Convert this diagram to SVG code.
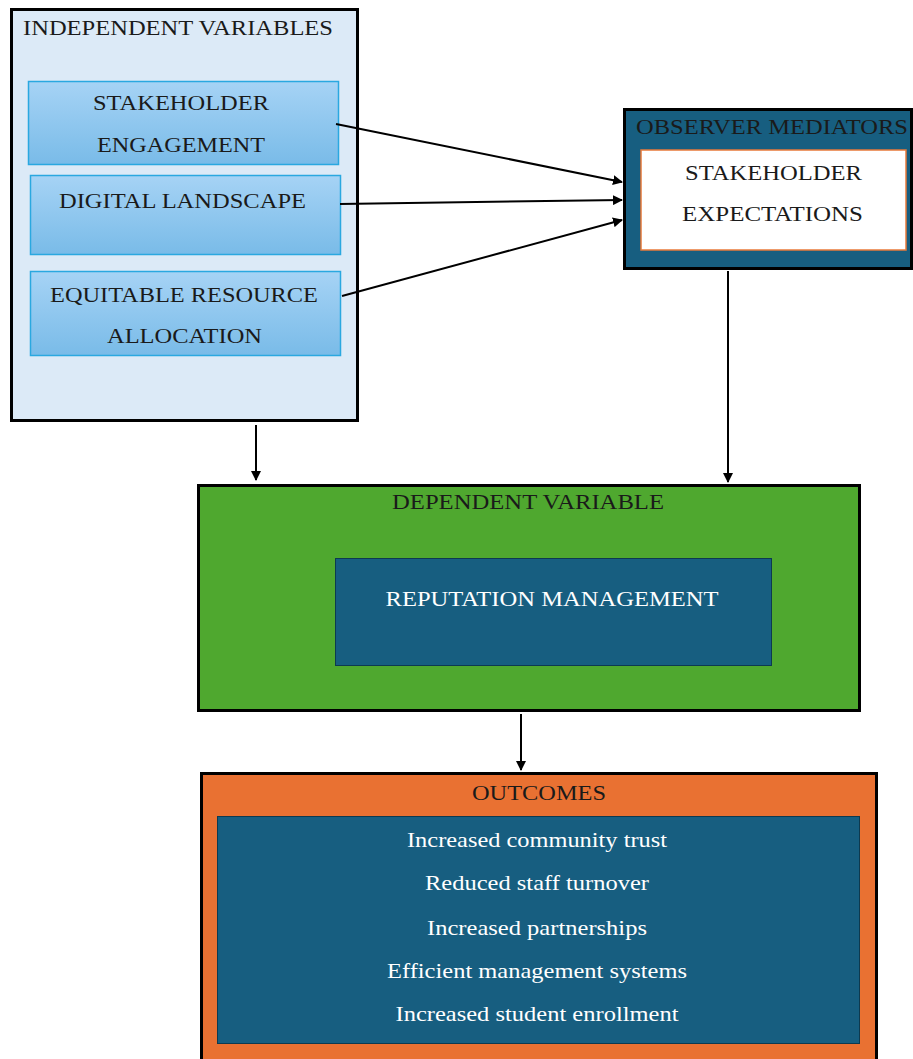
<svg xmlns="http://www.w3.org/2000/svg" width="913" height="1059" viewBox="0 0 913 1059" font-family="'Liberation Serif', 'DejaVu Serif', serif">
<defs>
<linearGradient id="blueGrad" x1="0" y1="0" x2="0" y2="1">
<stop offset="0" stop-color="#a6d3f5"/>
<stop offset="1" stop-color="#79bbe8"/>
</linearGradient>
<marker id="arrow" viewBox="0 0 10 10" refX="9" refY="5" markerWidth="5" markerHeight="5" orient="auto" markerUnits="strokeWidth">
<path d="M0,0 L10,5 L0,10 z" fill="#000"/>
</marker>
</defs>
<style>
text { font-family: 'Liberation Serif', 'DejaVu Serif', serif; font-size: 22px; }
.dark { fill: #1a1a1a; }
.white { fill: #ffffff; }
.mid { text-anchor: middle; }
.outer { stroke: #000; stroke-width: 3; }
.sub { fill: url(#blueGrad); stroke: #2aa8e0; stroke-width: 1.5; }
.teal { fill: #175e80; }
.conn { stroke: #000; stroke-width: 2; fill: none; marker-end: url(#arrow); }
</style>
<rect width="913" height="1059" fill="#fff"/>

<g id="independent">
<rect class="outer" x="11.5" y="9.5" width="346" height="411" fill="#dceaf7"/>
<text class="dark" x="23" y="35" textLength="310" lengthAdjust="spacingAndGlyphs">INDEPENDENT VARIABLES</text>
</g>
<g id="stakeholder-engagement">
<rect class="sub" x="28.5" y="81.5" width="310" height="83"/>
<text class="dark mid" x="181" y="110" textLength="176" lengthAdjust="spacingAndGlyphs">STAKEHOLDER</text>
<text class="dark mid" x="181" y="152" textLength="168" lengthAdjust="spacingAndGlyphs">ENGAGEMENT</text>
</g>
<g id="digital-landscape">
<rect class="sub" x="30.5" y="175.5" width="310" height="79"/>
<text class="dark mid" x="182.5" y="208" textLength="247" lengthAdjust="spacingAndGlyphs">DIGITAL LANDSCAPE</text>
</g>
<g id="equitable-resource">
<rect class="sub" x="30.5" y="271.5" width="310" height="84"/>
<text class="dark mid" x="184" y="302" textLength="268" lengthAdjust="spacingAndGlyphs">EQUITABLE RESOURCE</text>
<text class="dark mid" x="184.5" y="343" textLength="155" lengthAdjust="spacingAndGlyphs">ALLOCATION</text>
</g>

<g id="observer">
<rect class="outer teal" x="624.5" y="109.5" width="287" height="159"/>
<text class="dark" x="636" y="134" textLength="272" lengthAdjust="spacingAndGlyphs">OBSERVER MEDIATORS</text>
<rect x="641" y="150" width="265" height="100" fill="#fff" stroke="#e87a3a" stroke-width="1.5"/>
<text class="dark mid" x="773.5" y="180" textLength="177" lengthAdjust="spacingAndGlyphs">STAKEHOLDER</text>
<text class="dark mid" x="772.5" y="221" textLength="181" lengthAdjust="spacingAndGlyphs">EXPECTATIONS</text>
</g>

<g id="dependent">
<rect class="outer" x="198.5" y="485.5" width="661" height="225" fill="#4fa82f"/>
<text class="dark mid" x="528" y="509" textLength="272" lengthAdjust="spacingAndGlyphs">DEPENDENT VARIABLE</text>
<rect class="teal" x="335.5" y="558.5" width="436" height="107" stroke="#0d3a50" stroke-width="1"/>
<text class="white mid" x="552" y="606" textLength="333" lengthAdjust="spacingAndGlyphs">REPUTATION MANAGEMENT</text>
</g>

<g id="outcomes">
<rect class="outer" x="201.5" y="773.5" width="675" height="290" fill="#e97132"/>
<text class="dark mid" x="539" y="800" textLength="134" lengthAdjust="spacingAndGlyphs">OUTCOMES</text>
<rect class="teal" x="217.5" y="816.5" width="642" height="227" stroke="#0d3a50" stroke-width="1"/>
<text class="white mid" x="537" y="847" textLength="260" lengthAdjust="spacingAndGlyphs">Increased community trust</text>
<text class="white mid" x="537" y="890" textLength="224" lengthAdjust="spacingAndGlyphs">Reduced staff turnover</text>
<text class="white mid" x="537" y="935" textLength="220" lengthAdjust="spacingAndGlyphs">Increased partnerships</text>
<text class="white mid" x="537" y="978" textLength="300" lengthAdjust="spacingAndGlyphs">Efficient management systems</text>
<text class="white mid" x="537" y="1021" textLength="283" lengthAdjust="spacingAndGlyphs">Increased student enrollment</text>
</g>

<g id="connectors">
<line class="conn" x1="336" y1="124" x2="622" y2="182"/>
<line class="conn" x1="340" y1="204" x2="622" y2="200"/>
<line class="conn" x1="342" y1="296" x2="622" y2="220"/>
<line class="conn" x1="256" y1="425" x2="256" y2="480"/>
<line class="conn" x1="728" y1="271" x2="728" y2="482"/>
<line class="conn" x1="521" y1="714" x2="521" y2="770"/>
</g>
</svg>
